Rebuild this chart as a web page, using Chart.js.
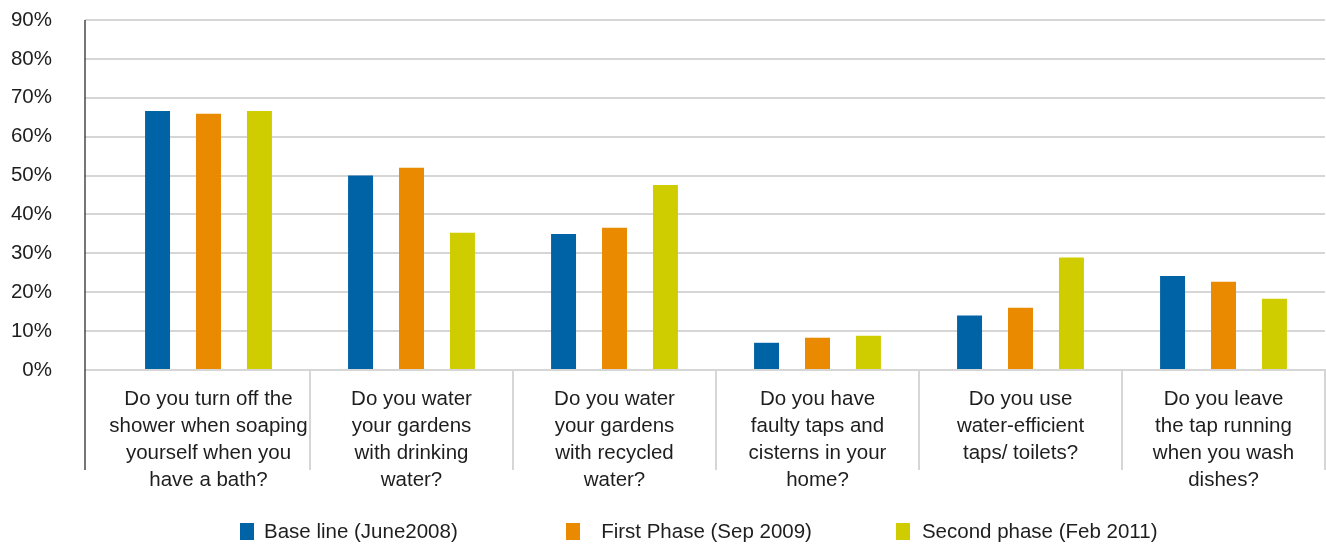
<!DOCTYPE html>
<html>
<head>
<meta charset="utf-8">
<script src="https://cdn.jsdelivr.net/npm/chart.js@4.4.1/dist/chart.umd.min.js"></script>
<style>
    html, body {
        margin: 0;
        padding: 0;
        background: #ffffff;
    }
    #wrap {
        position: relative;
        width: 1326px;
        height: 545px;
    }
    #legend {
        position: absolute;
        left: 240px;
        top: 519px;
        display: flex;
        align-items: center;
        font-family: "Liberation Sans", Arial, sans-serif;
        font-size: 20.5px;
        color: #1e1e1e;
        white-space: pre;
    }
    .legend-item {
        display: flex;
        align-items: center;
    }
    .legend-item:nth-child(1) { margin-right: 108px; }
    .legend-item:nth-child(2) { margin-right: 84px; }
    .legend-box {
        width: 14px;
        height: 17px;
        margin-right: 10px;
    }
    .legend-item:nth-child(3) .legend-box { margin-right: 12px; }
</style>
</head>
<body>
<div id="wrap">
    <canvas id="waterChart" width="1326" height="545"></canvas>
    <div id="legend"></div>
</div>
<script>
const categories = [
    ["Do you turn off the", "shower when soaping", "yourself when you", "have a bath?"],
    ["Do you water", "your gardens", "with drinking", "water?"],
    ["Do you water", "your gardens", "with recycled", "water?"],
    ["Do you have", "faulty taps and", "cisterns in your", "home?"],
    ["Do you use", "water-efficient", "taps/ toilets?"],
    ["Do you leave", "the tap running", "when you wash", "dishes?"],
];

const seriesNames = [
    "Base line (June2008)",
    "  First Phase (Sep 2009)",
    "Second phase (Feb 2011)",
];

const baseLine = [66.6, 50.0, 35.0, 7.0, 14.0, 24.2];
const firstPhase = [65.9, 52.0, 36.6, 8.3, 16.0, 22.7];
const secondPhase = [66.6, 35.3, 47.6, 8.8, 28.9, 18.3];

const yTicks = [0, 10, 20, 30, 40, 50, 60, 70, 80, 90];

const seriesColors = ["#0063a6", "#e98a00", "#cfcd00"];

const fontFamily = '"Liberation Sans", Arial, sans-serif';
const fontSize = 20.5;
const gridColor = "#d6d6d6";
const yTickLength = 22;
const xTickLength = 100;
const xLabelPadding = -84;
const xLabelLine = 27;

// black value axis, drawn a little left of the first category
const valueAxisLine = {
    id: "valueAxisLine",
    afterDraw(chart) {
        const { ctx, chartArea } = chart;
        const x = chartArea.left - yTickLength;
        ctx.save();
        ctx.strokeStyle = "#1a1a1a";
        ctx.lineWidth = 1.2;
        ctx.beginPath();
        ctx.moveTo(x, chartArea.top);
        ctx.lineTo(x, chartArea.bottom + xTickLength);
        ctx.stroke();
        ctx.restore();
    },
};

const datasets = [baseLine, firstPhase, secondPhase].map((values, i) => ({
    label: seriesNames[i],
    data: values,
    backgroundColor: seriesColors[i],
    borderWidth: 0,
    barPercentage: 0.49,
    categoryPercentage: 0.753,
}));

const chart = new Chart(document.getElementById("waterChart"), {
    type: "bar",
    data: {
        labels: categories,
        datasets: datasets,
    },
    plugins: [valueAxisLine],
    options: {
        responsive: false,
        animation: false,
        devicePixelRatio: 1,
        layout: {
            padding: { top: 20, right: 1, bottom: 51, left: 0 },
        },
        plugins: {
            legend: { display: false },
            tooltip: { enabled: false },
        },
        scales: {
            x: {
                afterFit(scale) {
                    // labels sit inside the long separator ticks
                    scale.height = xTickLength + xLabelPadding + 4 * xLabelLine;
                    scale.paddingLeft = 0;
                    scale.paddingRight = 0;
                },
                grid: {
                    offset: true,
                    drawOnChartArea: false,
                    drawTicks: true,
                    tickLength: xTickLength,
                    lineWidth: 2,
                    color: (ctx) => (ctx.index === 0 ? "rgba(0,0,0,0)" : gridColor),
                },
                border: { display: true, color: gridColor, width: 2 },
                ticks: {
                    autoSkip: false,
                    maxRotation: 0,
                    padding: xLabelPadding,
                    color: "#1e1e1e",
                    font: { family: fontFamily, size: fontSize, lineHeight: xLabelLine / fontSize },
                },
            },
            y: {
                min: 0,
                max: 90,
                afterFit(scale) {
                    scale.width = 107;
                    scale.paddingTop = 0;
                    scale.paddingBottom = 0;
                },
                afterBuildTicks(scale) {
                    scale.ticks = yTicks.map((v) => ({ value: v }));
                },
                grid: {
                    color: gridColor,
                    lineWidth: 2,
                    tickLength: yTickLength,
                },
                border: { display: false },
                ticks: {
                    padding: 33,
                    color: "#1e1e1e",
                    font: { family: fontFamily, size: fontSize },
                    callback: (value) => value + "%",
                },
            },
        },
    },
});

// legend built from the chart's own datasets
const legend = document.getElementById("legend");
chart.data.datasets.forEach((ds) => {
    const item = document.createElement("div");
    item.className = "legend-item";
    const box = document.createElement("span");
    box.className = "legend-box";
    box.style.background = ds.backgroundColor;
    const text = document.createElement("span");
    text.textContent = ds.label;
    item.appendChild(box);
    item.appendChild(text);
    legend.appendChild(item);
});
</script>
</body>
</html>
